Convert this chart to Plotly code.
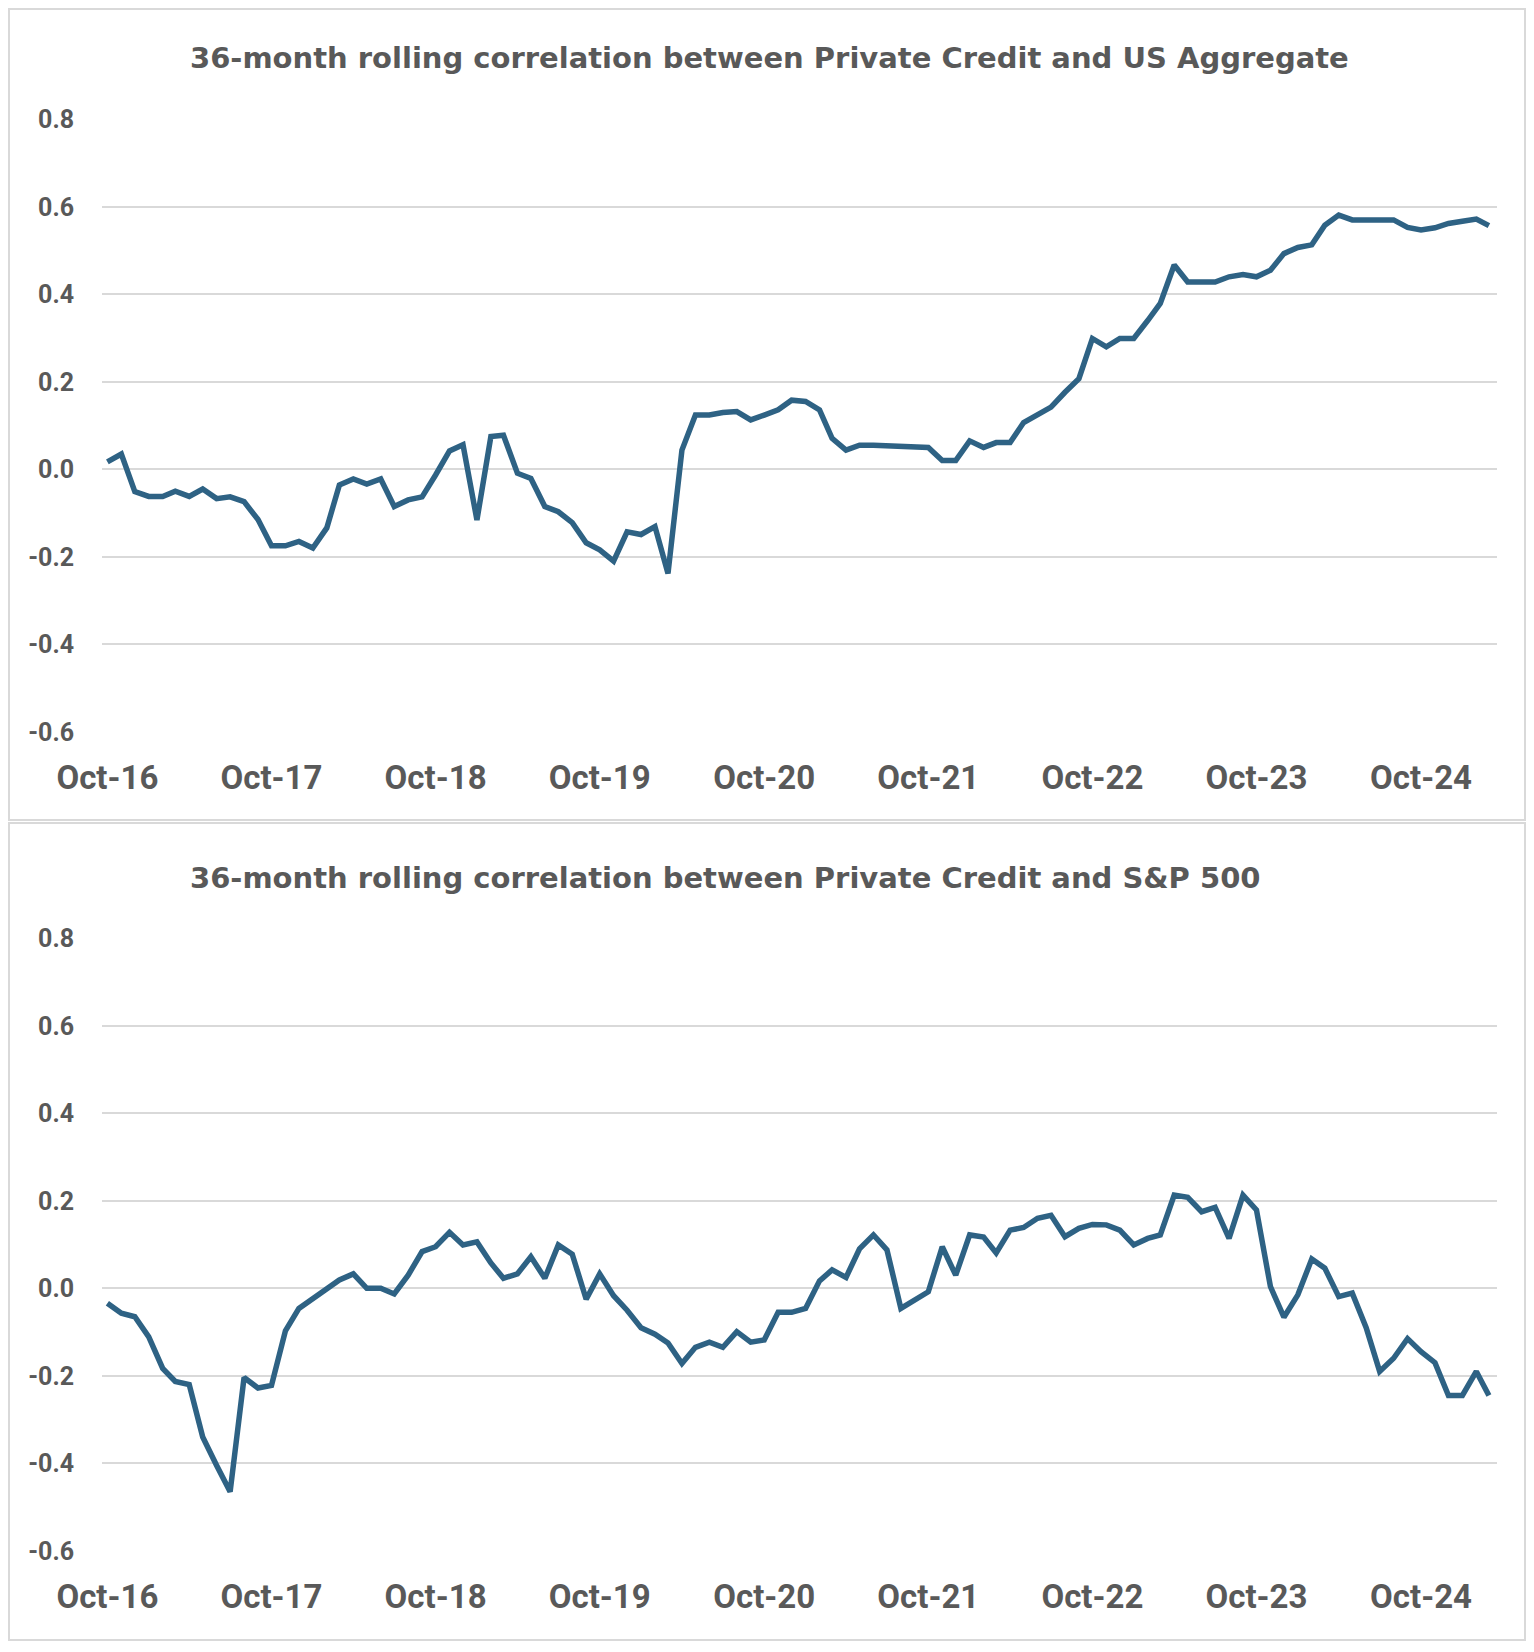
import pandas as pd
import plotly.graph_objects as go
from plotly.subplots import make_subplots

# ---- data (monthly, Oct-16 .. Mar-25) ----
months = pd.date_range("2016-10-01", periods=102, freq="MS")

corr_us_agg = [
    0.017, 0.035, -0.051, -0.062, -0.062, -0.050, -0.062, -0.045, -0.067, -0.063,
    -0.074, -0.115, -0.175, -0.175, -0.165, -0.180, -0.134, -0.036, -0.022, -0.034,
    -0.022, -0.085, -0.070, -0.063, -0.013, 0.042, 0.056, -0.116, 0.075, 0.078,
    -0.009, -0.021, -0.085, -0.097, -0.122, -0.168, -0.184, -0.210, -0.143, -0.149,
    -0.131, -0.238, 0.044, 0.124, 0.124, 0.130, 0.132, 0.113, 0.124, 0.136,
    0.158, 0.155, 0.136, 0.071, 0.044, 0.055, 0.055, 0.054, 0.050, 0.050,
    0.050, 0.020, 0.020, 0.065, 0.050, 0.061, 0.061, 0.107, 0.123, 0.142,
    0.176, 0.207, 0.299, 0.280, 0.299, 0.299, 0.340, 0.379, 0.467, 0.428,
    0.428, 0.428, 0.440, 0.445, 0.440, 0.455, 0.493, 0.507, 0.513, 0.558,
    0.581, 0.570, 0.570, 0.570, 0.570, 0.553, 0.547, 0.552, 0.562, 0.567,
    0.572, 0.557,
]

corr_sp500 = [
    -0.034, -0.057, -0.065, -0.111, -0.183, -0.213, -0.220, -0.340, -0.405, -0.465,
    -0.204, -0.228, -0.222, -0.097, -0.046, -0.023, 0.000, 0.019, 0.033, 0.000,
    0.000, -0.013, 0.030, 0.084, 0.095, 0.128, 0.099, 0.106, 0.058, 0.023,
    0.033, 0.072, 0.023, 0.099, 0.078, -0.025, 0.033, -0.017, -0.050, -0.090,
    -0.105, -0.125, -0.172, -0.135, -0.123, -0.135, -0.099, -0.123, -0.118, -0.055,
    -0.055, -0.046, 0.017, 0.042, 0.025, 0.090, 0.122, 0.088, -0.046, -0.028,
    -0.008, 0.095, 0.030, 0.122, 0.117, 0.081, 0.133, 0.139, 0.160, 0.167,
    0.118, 0.137, 0.146, 0.145, 0.133, 0.099, 0.114, 0.122, 0.213, 0.208,
    0.175, 0.185, 0.114, 0.213, 0.179, 0.004, -0.066, -0.015, 0.067, 0.046,
    -0.019, -0.011, -0.090, -0.190, -0.160, -0.115, -0.145, -0.170, -0.245, -0.245,
    -0.190, -0.245,
]

titles = [
    "36-month rolling correlation between Private Credit and US Aggregate",
    "36-month rolling correlation between Private Credit and S&P 500",
]
y_ticks = [-0.6, -0.4, -0.2, 0.0, 0.2, 0.4, 0.6, 0.8]
y_ticktext = [f"{v:.1f}" for v in y_ticks]

# ---- figure (sized so the page's 8px body margin keeps the full window) ----
W, H = 1518, 1636
LINE = "#2E6284"
TXT = "#595959"
GRID = "#D9D9D9"
FONT = "Roboto"

fig = make_subplots(rows=2, cols=1)

for r, ys in enumerate([corr_us_agg, corr_sp500], start=1):
    fig.add_trace(
        go.Scatter(x=months, y=ys, mode="lines",
                   line=dict(color=LINE, width=5.5), showlegend=False),
        row=r, col=1,
    )

xdom = [94 / W, 1489 / W]
ydoms = [[1 - 723.8 / H, 1 - 111.3 / H], [1 - 1542.8 / H, 1 - 930.3 / H]]

for r in (1, 2):
    fig.update_xaxes(
        row=r, col=1, domain=xdom, type="date",
        range=["2016-09-19", "2025-03-19"],
        tick0="2016-10-01", dtick="M12", tickformat="%b-%y",
        showgrid=False, zeroline=False, showline=False, ticks="",
        ticklabelstandoff=23,
        tickfont=dict(family=FONT, size=33, color=TXT, weight="bold"),
        automargin=False,
    )
    fig.update_yaxes(
        row=r, col=1, domain=ydoms[r - 1],
        range=[-0.6, 0.8], tickvals=y_ticks, ticktext=y_ticktext,
        showgrid=True, gridcolor=GRID, gridwidth=1.5,
        zeroline=False, showline=False, ticks="",
        ticklabelstandoff=27,
        tickfont=dict(family=FONT, size=25, color=TXT, weight="bold"),
        automargin=False,
    )

# titles
for t, ypx in zip(titles, [50, 870]):
    fig.add_annotation(
        text=t, xref="paper", yref="paper", x=180 / W, y=1 - ypx / H,
        xanchor="left", yanchor="middle", showarrow=False,
        font=dict(family="DejaVu Sans", size=29, color=TXT, weight="bold"),
    )

# chart borders
for (y0, y1) in [(1, 812), (815, 1632)]:
    fig.add_shape(
        type="rect", xref="paper", yref="paper",
        x0=1 / W, x1=1517 / W, y0=1 - y1 / H, y1=1 - y0 / H,
        line=dict(color=GRID, width=2), fillcolor="rgba(0,0,0,0)",
    )

fig.update_layout(
    width=W, height=H,
    margin=dict(l=0, r=0, t=0, b=0),
    paper_bgcolor="white", plot_bgcolor="white",
    font=dict(family=FONT, color=TXT),
)

fig.write_html("out.html")
